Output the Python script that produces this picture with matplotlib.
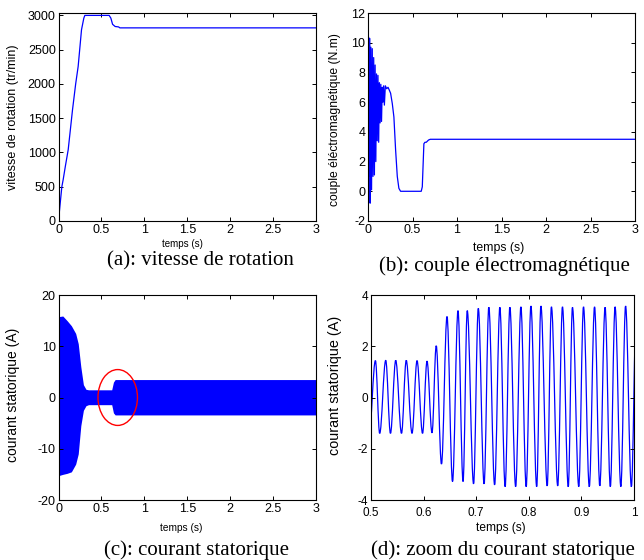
#----- Four-panel plots of an induction motor start-up --------

import matplotlib.pyplot as plt
from matplotlib.patches import Ellipse, PathPatch
from matplotlib.path import Path
import numpy as np

#----------data read for each panel----------

# (a) rotor speed (tr/min)
speed_t = [0, 0.016, 0.039, 0.054, 0.08, 0.113, 0.163, 0.2, 0.229, 0.268,
           0.295, 0.307, 0.59, 0.61, 0.63, 0.66, 0.70, 0.715, 3.0]
speed_v = [0, 210, 500, 600, 800, 1040, 1620, 2000, 2255, 2790,
           2960, 3000, 3000, 2960, 2870, 2838, 2832, 2818, 2818]

# (b) electromagnetic torque (N.m)
torque_t = [0, 0.005, 0.012, 0.018, 0.024, 0.032, 0.040, 0.048, 0.056, 0.064,
            0.072, 0.080, 0.088, 0.096, 0.104, 0.112, 0.120, 0.128, 0.136, 0.144,
            0.152, 0.160, 0.168, 0.176, 0.184, 0.195, 0.21, 0.225, 0.24, 0.254,
            0.273, 0.291, 0.31, 0.329, 0.347, 0.366, 0.598, 0.61, 0.628, 0.64,
            0.655, 0.68, 0.70, 3.0]
torque_v = [0, 10.4, 1.0, 10.3, -0.8, 9.7, 0.1, 9.6, 1.0, 9.0,
            1.1, 8.5, 2.0, 7.9, 3.4, 7.8, 3.3, 7.3, 4.6, 7.2,
            4.7, 7.0, 6.0, 7.1, 5.8, 7.1, 6.9, 7.0, 6.8, 6.6,
            5.9, 5.0, 2.8, 1.0, 0.2, 0, 0, 0.3, 3.2, 3.3,
            3.3, 3.45, 3.5, 3.5]

# (c) stator current envelope over the full run (A)
env_t  = [0, 0.01, 0.05, 0.10, 0.15, 0.20, 0.23, 0.26, 0.29, 0.32, 0.35,
          0.62, 0.64, 0.66, 3.0]
env_hi = [16.5, 15.8, 15.9, 15.0, 14.0, 12.5, 10.5, 6.0, 2.5, 1.6, 1.5,
          1.5, 3.0, 3.5, 3.5]
env_lo = [-14.0, -15.2, -15.0, -14.8, -14.5, -13.0, -11.0, -5.5, -2.5, -1.6, -1.4,
          -1.4, -3.0, -3.4, -3.4]

# (d) stator current between 0.5 s and 1 s: crest and trough of each cycle
peak_t = [0.5084, 0.528, 0.547, 0.567, 0.5875, 0.6065, 0.624, 0.6445, 0.6654,
          0.683, 0.704, 0.724, 0.745, 0.764, 0.785, 0.804, 0.823, 0.843,
          0.864, 0.883, 0.904, 0.925, 0.945, 0.964, 0.984, 1.0045]
peak_v = [1.44, 1.45, 1.45, 1.45, 1.44, 1.42, 2.02, 3.16, 3.39,
          3.39, 3.48, 3.52, 3.52, 3.52, 3.54, 3.57, 3.57, 3.54,
          3.54, 3.52, 3.54, 3.54, 3.52, 3.54, 3.57, 3.55]
trough_t = [0.4965, 0.5165, 0.537, 0.558, 0.578, 0.598, 0.616, 0.634, 0.655, 0.675,
            0.695, 0.715, 0.735, 0.755, 0.775, 0.795, 0.815, 0.835, 0.855,
            0.875, 0.895, 0.915, 0.935, 0.955, 0.975, 0.995]
trough_v = [-1.40, -1.40, -1.40, -1.40, -1.40, -1.40, -1.38, -2.60, -3.28, -3.28,
            -3.37, -3.37, -3.41, -3.48, -3.48, -3.48, -3.48, -3.45, -3.45,
            -3.48, -3.48, -3.48, -3.45, -3.48, -3.48, -3.48]

# red marker around the load step in (c)
ring_center = (0.69, 0.0)
ring_w, ring_h = 0.46, 10.9

captions = ['(a): vitesse de rotation', '(b): couple électromagnétique',
            '(c): courant statorique', '(d): zoom du courant statorique']
ylabels = ['vitesse de rotation (tr/min)', 'couple éléctromagnétique (N.m)',
           'courant statorique (A)', 'courant statorique (A)']

#----------figure----------

plt.rcParams['font.family'] = ['Liberation Sans', 'DejaVu Sans']
plt.rcParams['axes.unicode_minus'] = False
blue = '#0000ff'

fig = plt.figure(figsize=(6.44, 5.6), dpi=100)
W, H = 644.0, 560.0

def add_box(x0, y0, x1, y1):
    '''axes from pixel corners (left, top, right, bottom)'''
    return fig.add_axes([x0 / W, 1 - y1 / H, (x1 - x0) / W, (y1 - y0) / H])

axA = add_box(58.5, 13, 316, 221)
axB = add_box(368, 13, 635, 221)
axC = add_box(58.5, 295, 316, 500)
axD = add_box(371, 295, 634, 500)
axes = [axA, axB, axC, axD]

axA.plot(speed_t, speed_v, color=blue, lw=0.9)
axA.set_xlim(0, 3)
axA.set_ylim(0, 3035)
axA.set_yticks([0, 500, 1000, 1500, 2000, 2500, 3000])

axB.plot(torque_t, torque_v, color=blue, lw=0.9)
axB.set_xlim(0, 3)
axB.set_ylim(-2, 12)
axB.set_yticks(range(-2, 13, 2))

axC.fill_between(env_t, env_lo, env_hi, color=blue, lw=0)
axC.add_patch(Ellipse(ring_center, ring_w, ring_h, fill=False,
                      edgecolor='red', lw=1.0))
axC.set_xlim(0, 3)
axC.set_ylim(-20, 20)
axC.set_yticks([-20, -10, 0, 10, 20])

# smooth swings between successive crests and troughs (flat tangent at each)
zt = np.concatenate([peak_t, trough_t])
zv = np.concatenate([peak_v, trough_v])
order = np.argsort(zt)
zt, zv = zt[order], zv[order]
k = 0.364
verts = [(zt[0], zv[0])]
codes = [Path.MOVETO]
for i in range(1, len(zt)):
    dt = zt[i] - zt[i - 1]
    verts += [(zt[i - 1] + k * dt, zv[i - 1]), (zt[i] - k * dt, zv[i]), (zt[i], zv[i])]
    codes += [Path.CURVE4] * 3
axD.add_patch(PathPatch(Path(verts, codes), fill=False, edgecolor=blue, lw=0.9))
axD.set_xlim(0.5, 1.0)
axD.set_ylim(-4, 4)
axD.set_yticks([-4, -2, 0, 2, 4])
axD.set_xticks([0.5, 0.6, 0.7, 0.8, 0.9, 1.0])
axD.set_xticklabels(['0.5', '0.6', '0.7', '0.8', '0.9', '1'])

for ax in [axA, axB, axC]:
    ax.set_xticks([0, 0.5, 1, 1.5, 2, 2.5, 3])
    ax.set_xticklabels(['0', '0.5', '1', '1.5', '2', '2.5', '3'])

# label sizes / spots differ a little between panels
xl_size = [7.0, 8.8, 7.3, 8.6]
yl_size = [9.0, 8.7, 10.0, 10.4]
xl_pos = [(0.48, -0.1106), (0.49, -0.1298), (0.478, -0.1366), (0.492, -0.1366)]
yl_pos = [(-0.178, 0.5), (-0.1225, 0.49), (-0.178, 0.515), (-0.137, 0.5585)]
tick_size = [9, 9, 9, 8.5]
xpad = [2, 2, 2, 5]

for i, ax in enumerate(axes):
    ax.tick_params(direction='in', length=3, width=0.7, top=True, right=True,
                   labelsize=tick_size[i], pad=2)
    ax.tick_params(axis='x', pad=xpad[i])
    for sp in ax.spines.values():
        sp.set_linewidth(0.8)
    ax.set_xlabel('temps (s)', fontsize=xl_size[i], va='center')
    ax.xaxis.set_label_coords(*xl_pos[i])
    ax.set_ylabel(ylabels[i], fontsize=yl_size[i], va='center')
    ax.yaxis.set_label_coords(*yl_pos[i])

#----------captions under each panel----------

cap_xy = [(200, 261), (504, 266), (197, 550), (503, 550)]
for (cx, cy), cap in zip(cap_xy, captions):
    fig.text(cx / W, 1 - cy / H, cap, ha='center', va='center',
             family='Liberation Serif', fontsize=15)

fig.savefig('out.png', dpi=100)
